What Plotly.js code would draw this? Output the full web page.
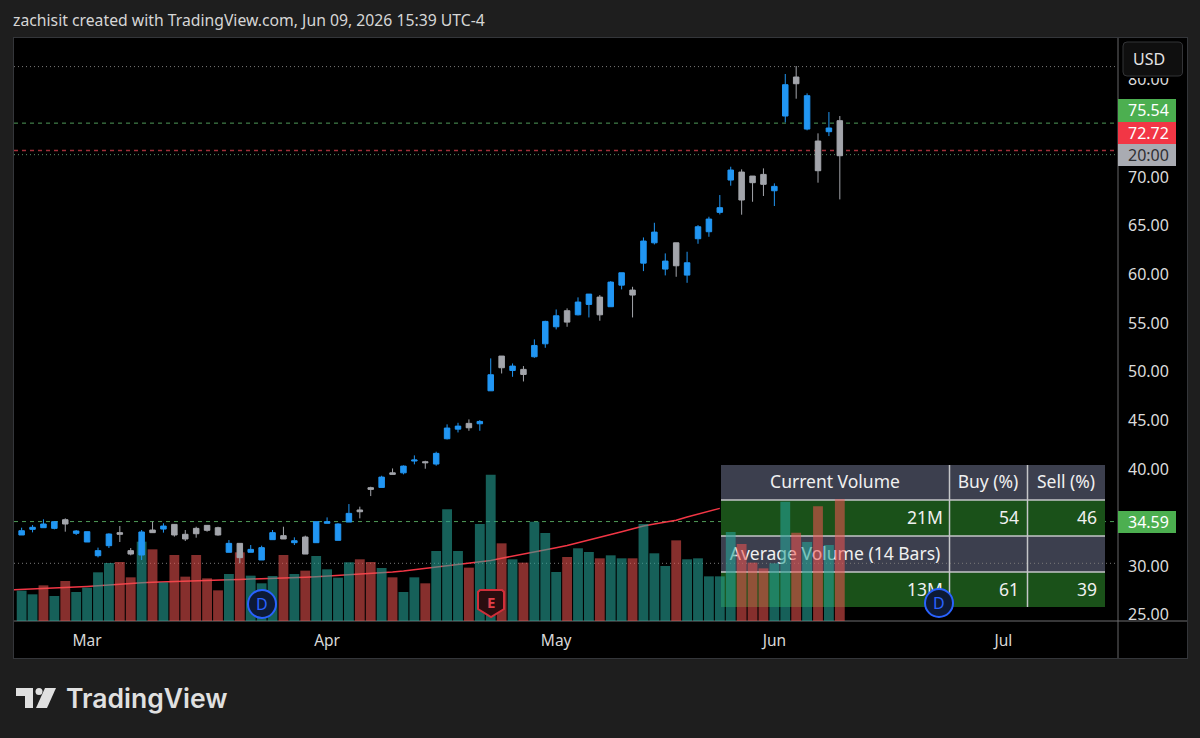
<!DOCTYPE html>
<html>
<head>
<meta charset="utf-8">
<script src="https://cdn.plot.ly/plotly-3.0.1.min.js"></script>
<style>html,body{margin:0;padding:0;background:#1e1e1e;overflow:hidden}</style>
</head>
<body>
<div id="chart" style="width:1200px;height:738px"></div>
<script>
// candles, one per trading day from Feb 20 to Jun 9 2026
const open = [33.21,33.79,33.96,33.89,34.78,33.38,32.49,31.08,32.11,33.45,31.6,31.15,33.72,33.82,34.3,33.28,33.89,34.2,33.96,31.43,32.35,31.43,30.64,32.73,33.14,32.42,33.0,32.42,34.41,32.66,34.54,35.78,38.07,38.1,39.6,39.6,40.81,40.74,40.5,43.1,44.09,44.68,44.64,48.03,51.6,50.12,50.23,51.53,52.86,54.61,56.26,55.84,56.91,57.66,56.67,58.89,58.38,61.15,63.24,60.54,63.24,59.92,63.66,64.38,66.37,69.69,70.51,70.1,70.27,68.59,76.27,80.28,74.93,73.7,74.66,75.79];
const close = [33.65,34.0,34.34,34.58,34.34,33.62,33.55,31.6,33.31,33.28,31.25,33.52,33.45,34.13,33.21,32.8,33.34,33.69,33.21,32.35,30.88,31.73,31.91,33.45,32.8,32.62,31.25,34.58,34.58,34.34,35.43,35.6,37.9,39.16,39.44,40.29,40.91,40.64,41.6,44.2,44.4,44.23,44.88,49.68,50.4,50.57,49.71,52.69,55.16,55.74,55.09,57.15,57.97,55.84,59.2,60.16,57.87,63.42,64.34,61.36,60.88,61.19,64.89,65.68,66.85,70.72,67.64,69.42,69.25,69.04,79.49,79.59,78.36,70.65,75.04,72.19];
const high = [33.96,34.23,34.82,34.58,34.92,33.72,33.55,31.91,33.38,34.13,31.87,33.72,34.58,34.41,34.34,33.72,34.06,34.23,34.06,32.69,32.35,32.18,32.11,33.72,34.06,32.97,33.14,34.58,35.02,34.41,36.39,36.12,38.17,39.3,40.05,40.36,41.39,40.84,41.77,44.58,44.74,45.09,45.02,51.36,51.6,50.84,50.57,53.31,55.23,56.39,56.5,57.63,57.97,57.87,59.3,60.16,58.72,63.79,65.3,62.15,63.24,62.32,65.06,65.92,68.15,71.06,70.79,70.1,70.89,69.35,80.59,81.41,78.6,74.49,76.68,76.27];
const low = [33.21,33.48,33.96,33.79,33.55,33.21,32.49,30.91,31.87,32.49,31.12,30.64,33.45,33.45,33.04,32.59,32.93,33.55,33.14,31.43,30.3,31.43,30.64,32.73,32.8,32.18,31.25,32.42,34.41,32.66,34.54,34.92,37.21,38.1,39.44,39.44,40.47,40.02,40.33,43.03,43.75,43.92,43.92,48.03,49.81,49.47,48.99,51.42,52.45,54.34,54.61,55.78,55.57,55.23,56.67,58.45,55.57,60.33,63.07,59.89,59.75,59.13,63.14,63.86,66.16,69.11,66.13,67.46,68.05,67.02,75.62,78.05,74.8,69.42,74.21,67.7];

// volume in millions, sold flag picks the red bars
const volume = [5.27,4.63,6.19,4.34,6.94,5.03,5.79,8.45,10.07,10.24,7.58,13.77,12.44,6.71,11.46,7.7,11.46,7.41,5.32,8.16,11.92,7.87,6.54,7.81,11.46,8.16,8.74,11.28,8.97,7.52,10.19,10.71,10.24,9.2,7.58,5.03,7.58,6.54,12.15,19.39,12.15,9.26,16.84,25.4,13.48,10.71,10.13,17.25,15.28,8.51,11.11,12.62,11.98,10.88,11.4,10.88,10.88,16.84,11.75,9.55,14.0,10.71,10.88,7.75,7.75,15.45,13.37,10.13,9.14,10.01,20.72,15.34,13.72,19.91,13.19,21.12];
const volumeSide = ['b','b','s','b','s','b','b','b','b','s','s','b','s','b','s','s','s','s','s','b','s','b','b','b','s','b','s','b','b','b','b','s','s','b','s','b','b','s','b','b','b','s','b','b','s','b','s','b','b','b','s','b','b','s','b','b','s','b','b','b','s','b','b','b','b','b','s','s','s','b','b','s','b','s','b','s'];
// volume average, starts one bar off the left edge, the part past the table's edge is hidden by the table
const volumeMa = [5.38,5.45,5.5,5.6,5.65,5.75,5.85,5.98,6.1,6.25,6.38,6.5,6.62,6.72,6.8,6.86,6.93,6.98,7.05,7.12,7.18,7.22,7.27,7.32,7.37,7.41,7.5,7.6,7.7,7.82,7.93,8.0,8.05,8.2,8.35,8.5,8.68,8.9,9.15,9.4,9.65,9.88,10.1,10.3,10.5,10.9,11.25,11.6,11.9,12.3,12.7,13.1,13.55,14.0,14.5,15.0,15.5,16.0,16.5,16.85,17.15,17.5,18.05,18.55,19.05,19.55];

const monthLabels = ['Mar','Apr','May','Jun','Jul'];
const monthBars = [6,28,49,69,90];
const priceTicks = [25,30,40,45,50,55,60,65,70,80];

const tableHeader = ['Current Volume','Buy (%)','Sell (%)'];
const tableCurrent = ['21M','54','46'];
const tableAvgTitle = 'Average Volume (14 Bars)';
const tableAverage = ['13M','61','39'];

// pixel frame of the plot inside the 1200x738 picture
const L = 14, R = 1118, T = 38, B = 621;
const xRange = [-0.7, 100.5];
const priceRange = [24.37, 84.29];
const volRange = [0, 101.2];

const px = x => (x - L) / (R - L);
const py = y => (B - y) / (B - T);
const priceY = p => (p - priceRange[0]) / (priceRange[1] - priceRange[0]);
const xData = x => xRange[0] + px(x) * (xRange[1] - xRange[0]);
const yData = y => volRange[0] + py(y) * (volRange[1] - volRange[0]);
const bars = volume.map((v, i) => i);

function rect(x0, y0, x1, y1, fill, layer) {
  return {type: 'rect', xref: 'paper', yref: 'paper', x0: px(x0), x1: px(x1), y0: py(y0), y1: py(y1),
    fillcolor: fill, line: {width: 0}, layer: layer || 'below'};
}
function hline(x0, x1, y, color, width, dash) {
  return {type: 'line', xref: 'paper', yref: 'paper', x0: px(x0), x1: px(x1), y0: y, y1: y,
    line: {color: color, width: width, dash: dash || 'solid'}, layer: 'below'};
}
function vline(x, y0, y1, color, width, layer) {
  return {type: 'line', xref: 'paper', yref: 'paper', x0: px(x), x1: px(x), y0: py(y0), y1: py(y1),
    line: {color: color, width: width}, layer: layer || 'below'};
}
function poly(points, fill, lineColor, lineWidth) {
  let path = points.map((p, i) => (i ? 'L' : 'M') + px(p[0]) + ',' + py(p[1])).join(' ') + ' Z';
  return {type: 'path', xref: 'paper', yref: 'paper', path: path, fillcolor: fill,
    line: {color: lineColor, width: lineWidth}, layer: 'above'};
}
function circle(cx, cy, r, fill, lineColor, lineWidth) {
  return {type: 'circle', xref: 'paper', yref: 'paper', x0: px(cx - r), x1: px(cx + r), y0: py(cy + r), y1: py(cy - r),
    fillcolor: fill, line: {color: lineColor, width: lineWidth}, layer: 'above'};
}

const font = 'Noto Sans, sans-serif';
const tableLine = '#c4c6c8';
const headFill = '#3c3f4e';
const cellFill = '#1a5119';
const dashed = '4px,4px';
const dotted = '1px,3px';

let shapes = [
  // black chart frame
  rect(13, 37, 1188, 659, '#34363a'),
  rect(14, 38, 1187, 658, '#000000'),
  // price levels
  hline(L, R, priceY(81.35), '#7a7a7a', 1, dotted),
  hline(L, R, priceY(75.54), '#4f9a58', 1, dashed),
  hline(L, R, priceY(72.72), '#a3303a', 1.5, dashed),
  hline(L, R, priceY(72.3), '#5c8a66', 1, dotted),
  hline(L, R, priceY(34.59), '#4f9a58', 1, dashed),
  // table cells
  rect(721, 465, 1105, 500, headFill),
  rect(721, 500, 1105, 536, cellFill),
  rect(721, 536, 1105, 572, headFill),
  rect(721, 572, 1105, 607, cellFill),
  hline(721, 1105, py(500), tableLine, 1.5),
  hline(721, 1105, py(536), tableLine, 1.5),
  hline(721, 1105, py(572), tableLine, 1.5),
  vline(949.5, 465, 607, tableLine, 1.5),
  vline(1027.5, 465, 607, tableLine, 1.5),
  hline(L, R, priceY(30.3), '#7a7a7a', 1, dotted),
  // axis lines
  vline(R, T, 658, '#666769', 1),
  hline(L, 1187, py(B), '#6e6f71', 1),
  // right side price tags
  rect(1118, 99, 1176, 122, '#4caf50', 'above'),
  rect(1118, 122, 1176, 144, '#f23645', 'above'),
  rect(1118, 144, 1176, 166, '#a9abb2', 'above'),
  rect(1118, 511, 1176, 533, '#4caf50', 'above'),
  // USD button, with the strip behind it that clips the 80.00 label
  rect(1119, 38, 1187, 78, '#000000', 'above'),
  {type: 'path', xref: 'paper', yref: 'paper', layer: 'above', fillcolor: '#0f0f0f', line: {color: '#333437', width: 1},
    path: 'M' + px(1127) + ',' + py(42) + ' L' + px(1178) + ',' + py(42) + ' Q' + px(1182.5) + ',' + py(42) + ' ' + px(1182.5) + ',' + py(46) +
      ' L' + px(1182.5) + ',' + py(72) + ' Q' + px(1182.5) + ',' + py(76) + ' ' + px(1178) + ',' + py(76) +
      ' L' + px(1127) + ',' + py(76) + ' Q' + px(1123) + ',' + py(76) + ' ' + px(1123) + ',' + py(72) +
      ' L' + px(1123) + ',' + py(46) + ' Q' + px(1123) + ',' + py(42) + ' ' + px(1127) + ',' + py(42) + ' Z'},
  // dividend and earnings badges
  circle(262, 604, 14, '#0d1a36', '#2962ff', 2),
  circle(939, 603, 14, '#0d1a36', '#2962ff', 2),
  poly([[480, 590], [502, 590], [504, 592], [504, 609], [491, 617], [478, 609], [478, 592]], '#2a0d0f', '#d12f3a', 2),
  // TradingView logo
  poly([[16, 688], [33, 688], [33, 708], [25, 708], [25, 696], [16, 696]], '#e0e0e0', '#e0e0e0', 0),
  circle(39, 691.5, 3.5, '#e0e0e0', '#e0e0e0', 0),
  poly([[45, 688], [56, 688], [47, 708], [36, 708]], '#e0e0e0', '#e0e0e0', 0)
];

function note(text, x, y, color, size, anchor, extra) {
  return Object.assign({text: text, xref: 'paper', yref: 'paper', x: px(x), y: py(y), showarrow: false,
    xanchor: anchor || 'center', yanchor: 'middle', font: {family: font, color: color, size: size}}, extra || {});
}

const annotations = [
  note('zachisit created with TradingView.com, Jun 09, 2026 15:39 UTC-4', 11, 20.5, '#d6d6d6', 15.75, 'left'),
  note('USD', 1149, 58.5, '#e4e4e4', 16, 'center'),
  note('75.54', 1148, 110, '#ffffff', 16),
  note('72.72', 1148, 132.5, '#ffffff', 16),
  note('20:00', 1148, 155, '#2f3034', 16),
  note('34.59', 1148, 522, '#ffffff', 16),
  note('D', 262, 604, '#2962ff', 16),
  note('D', 939, 603, '#2962ff', 16),
  note('E', 491, 602, '#e0404a', 15, 'center', {font: {family: font, color: '#e0404a', size: 15, weight: 700}}),
  note('TradingView', 64, 698, '#e0e0e0', 26.5, 'left', {font: {family: 'Inter, sans-serif', color: '#e0e0e0', size: 26.5, weight: 600}})
];

const data = [
  // the average sits under the translucent bars, so it turns grey over the green ones
  {type: 'scatter', mode: 'lines', x: volumeMa.map((v, i) => i - 1), y: volumeMa, yaxis: 'y',
    line: {color: '#f23645', width: 1.5}, hoverinfo: 'skip'},
  // table text, also under the bars
  {type: 'scatter', mode: 'text', yaxis: 'y', hoverinfo: 'skip',
    x: [835, 988, 1066, 835].map(xData), y: [483.5, 483.5, 483.5, 555.5].map(yData),
    text: tableHeader.concat([tableAvgTitle]), textposition: 'middle center',
    textfont: {family: font, color: '#f0f0f0', size: 17.5}},
  {type: 'scatter', mode: 'text', yaxis: 'y', hoverinfo: 'skip',
    x: [943, 1019, 1097, 943, 1019, 1097].map(xData), y: [519.5, 519.5, 519.5, 592, 592, 592].map(yData),
    text: tableCurrent.concat(tableAverage), textposition: 'middle left',
    textfont: {family: font, color: '#f0f0f0', size: 17.5}},
  {type: 'bar', x: bars, y: volume, yaxis: 'y2', hoverinfo: 'skip',
    marker: {color: volumeSide.map(s => s === 'b' ? 'rgba(38,166,154,0.58)' : 'rgba(239,83,80,0.56)'), line: {width: 0}}},
  {type: 'candlestick', x: bars, open: open, high: high, low: low, close: close, yaxis: 'y3',
    whiskerwidth: 0, hoverinfo: 'skip',
    increasing: {line: {color: '#2196f3', width: 1}, fillcolor: '#2196f3'},
    decreasing: {line: {color: '#a3a5ab', width: 1}, fillcolor: '#a3a5ab'}}
];

const layout = {
  width: 1200, height: 738,
  margin: {l: L, r: 1200 - R, t: T, b: 738 - B, pad: 0},
  paper_bgcolor: '#1e1e1e',
  plot_bgcolor: '#000000',
  showlegend: false,
  bargap: 0.1,
  boxgap: 0.28,
  xaxis: {range: xRange, tickmode: 'array', tickvals: monthBars, ticktext: monthLabels, showgrid: false, zeroline: false,
    showline: false, ticks: '', rangeslider: {visible: false}, ticklabelstandoff: 8,
    tickfont: {family: font, color: '#d8d8d8', size: 15.5}},
  yaxis: {range: volRange, visible: false, fixedrange: true},
  yaxis2: {range: volRange, overlaying: 'y', visible: false},
  yaxis3: {range: priceRange, overlaying: 'y', side: 'right', tickmode: 'array', tickvals: priceTicks,
    ticktext: priceTicks.map(v => v.toFixed(2)), showgrid: false, zeroline: false, showline: false, ticks: '',
    ticklabelstandoff: 9, tickfont: {family: font, color: '#dcdcdc', size: 16}},
  shapes: shapes,
  annotations: annotations
};

Plotly.newPlot('chart', data, layout, {displayModeBar: false, staticPlot: true});
</script>
</body>
</html>
